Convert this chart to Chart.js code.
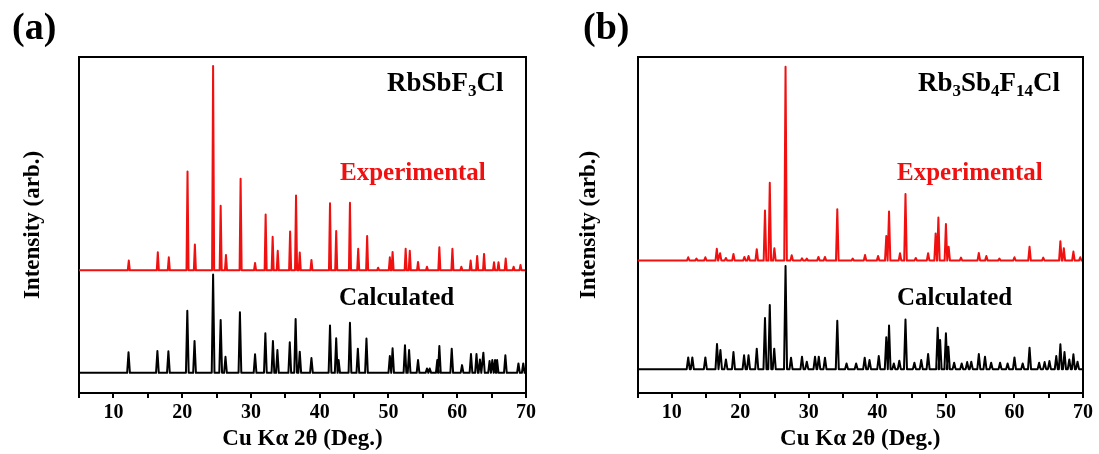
<!DOCTYPE html>
<html><head><meta charset="utf-8">
<script src="https://cdn.jsdelivr.net/npm/chart.js@4.4.0/dist/chart.umd.min.js"></script>
<style>
html,body{margin:0;padding:0;background:#fff;width:1099px;height:454px;overflow:hidden}
.box{position:absolute;top:0;height:454px}
#wa{left:0;width:549px}
#wb{left:549px;width:550px}
</style></head><body>
<div class="box" id="wa"><canvas id="ca"></canvas></div>
<div class="box" id="wb"><canvas id="cb"></canvas></div>
<script>
// ---- data (2θ in degrees, intensity in arbitrary units, offset traces) ----
const xTickValues = [5,10,15,20,25,30,35,40,45,50,55,60,65,70];

// (a) RbSbF3Cl
const aExpBase = 36.5;
const aExpPos = [12.24,16.46,18.06,20.78,21.85,24.5,25.6,26.37,28.5,30.6,32.14,33.16,33.9,35.7,36.56,37.1,38.8,41.5,42.4,44.4,45.6,46.9,48.5,50.2,50.6,52.5,53.1,54.3,55.6,57.4,59.3,60.6,61.95,62.9,63.9,65.35,66.0,67.05,68.2,69.2];
const aExpInt = [39.4,41.9,40.4,65.9,44.2,97.3,55.7,41.1,63.8,38.7,53.1,46.5,42.3,48.1,58.8,41.8,39.6,56.5,48.2,56.6,42.9,46.7,37.3,40.4,42.0,42.9,42.3,39.0,37.6,43.4,42.9,37.6,39.4,40.8,41.4,38.9,38.9,40.0,37.6,38.1];
const aCalBase = 6.0;
const aCalPos = [12.2,16.4,18.0,20.75,21.8,24.5,25.6,26.3,28.4,30.6,32.1,33.2,33.85,35.65,36.5,37.1,38.8,41.5,42.4,42.75,44.4,45.55,46.8,50.2,50.6,52.4,53.0,54.3,55.6,56.0,57.1,57.4,59.2,60.7,62.0,62.8,63.3,63.8,64.7,65.1,65.5,65.8,67.0,68.9,69.6];
const aCalInt = [12.1,12.5,12.4,24.5,15.5,35.3,21.7,10.8,24.0,11.5,17.8,15.5,12.8,15.1,22.0,12.3,10.4,20.1,16.3,9.8,20.9,13.2,16.2,11.0,13.3,14.2,12.8,9.8,7.3,7.3,9.8,14.0,13.2,8.3,11.6,11.6,10.0,12.0,9.5,9.8,9.8,9.8,11.2,8.8,8.8];

// (b) Rb3Sb4F14Cl
const bExpBase = 39.4;
const bExpPos = [12.4,13.6,14.9,16.57,17.05,17.9,19.0,20.6,21.2,22.4,23.6,24.3,24.97,26.6,27.5,29.0,29.7,31.4,32.35,34.15,36.4,38.2,40.1,41.3,41.7,43.3,44.1,45.6,47.4,48.5,48.9,50.0,50.4,52.2,54.8,55.9,57.8,60.0,62.2,64.2,66.7,67.2,68.6,69.6];
const bExpInt = [40.4,40.0,40.4,42.9,41.6,40.2,41.4,40.5,40.8,42.8,54.3,62.6,43.1,97.1,41.0,40.1,40.0,40.5,40.5,54.7,40.0,41.1,40.8,46.7,54.0,41.6,59.2,40.2,41.6,47.5,52.2,50.3,43.5,40.3,41.7,40.8,40.0,40.4,43.5,40.3,45.2,43.1,42.1,40.4];
const bCalBase = 7.1;
const bCalPos = [12.4,13.0,14.9,16.6,17.1,17.9,19.0,20.55,21.2,22.4,23.6,24.3,24.95,26.6,27.4,29.0,29.7,30.9,31.45,32.35,34.15,35.5,36.9,38.15,38.85,40.2,41.3,41.7,42.4,43.2,44.1,45.4,46.4,47.4,48.8,49.15,50.0,50.35,51.2,52.3,53.1,53.7,54.8,55.7,56.6,57.9,59.0,60.0,61.2,62.2,63.6,64.4,65.1,66.1,66.7,67.3,68.0,68.6,69.2];
const bCalInt = [10.6,10.6,10.6,14.6,12.8,10.0,12.2,11.2,11.2,13.2,22.3,26.2,13.2,37.8,10.5,10.8,9.3,10.8,10.8,10.5,21.5,8.8,8.8,10.5,9.8,11.0,16.6,20.1,8.8,9.6,21.9,9.0,9.8,11.6,19.4,15.8,17.8,13.8,9.0,8.8,9.2,9.3,11.6,10.8,9.0,9.0,8.8,10.6,8.8,13.5,9.0,9.2,9.5,11.0,14.5,12.2,10.0,11.5,9.3];

// ---- build line tables from the read peaks ----
function trace(base, pos, inten, hw){
  const pts=[{x:5,y:base}];
  pos.forEach((p,i)=>{ pts.push({x:p-hw,y:base},{x:p,y:inten[i]},{x:p+hw,y:base}); });
  pts.push({x:70,y:base});
  return pts;
}
const RED='rgb(240,16,16)';
const FONT='"Liberation Serif","Times New Roman",serif';

const framePlugin = {
  id:'frame',
  afterDraw(chart){
    const {ctx, chartArea:a} = chart;
    ctx.save();
    ctx.strokeStyle='#000'; ctx.lineWidth=2;
    ctx.beginPath();
    ctx.moveTo(a.left, a.top); ctx.lineTo(a.right, a.top); ctx.lineTo(a.right, a.bottom);
    ctx.stroke();
    ctx.restore();
  }
};
const textPlugin = {
  id:'txt',
  afterDraw(chart, args, opts){
    const ctx = chart.ctx;
    ctx.save();
    ctx.textBaseline='alphabetic';
    (opts.items||[]).forEach(it=>{
      let x = it.x;
      it.parts.forEach(pt=>{
        ctx.font = 'bold ' + pt.size + 'px ' + FONT;
        ctx.fillStyle = it.color || '#000';
        ctx.fillText(pt.t, x, it.y + (pt.dy||0));
        x += ctx.measureText(pt.t).width;
      });
    });
    ctx.restore();
  }
};

function makeChart(id, expPts, calPts, cfg){
  return new Chart(document.getElementById(id), {
    type:'scatter',
    data:{datasets:[
      {data:expPts, showLine:true, borderColor:RED, borderWidth:2, pointRadius:0, tension:0, borderJoinStyle:'round'},
      {data:calPts, showLine:true, borderColor:'#000', borderWidth:2, pointRadius:0, tension:0, borderJoinStyle:'round'}
    ]},
    options:{
      responsive:true, maintainAspectRatio:false, animation:false,
      layout:{padding:{top:57,right:cfg.rightPad,bottom:0,left:0}},
      plugins:{legend:{display:false}, tooltip:{enabled:false}, txt:{items:cfg.items}},
      scales:{
        x:{type:'linear', min:5, max:70,
          afterBuildTicks:s=>{ s.ticks = xTickValues.map(v=>({value:v})); },
          ticks:{autoSkip:false, maxRotation:0, padding:3, color:'#000',
                 font:{family:FONT, weight:'bold', size:20},
                 callback:v=> (v%10===0 ? String(v) : '')},
          grid:{drawOnChartArea:false, drawTicks:true, tickLength:5, color:'#000', lineWidth:2},
          border:{display:true, color:'#000', width:2},
          title:{display:true, text:'Cu Kα 2θ (Deg.)', color:'#000', padding:{top:0,bottom:1},
                 font:{family:FONT, weight:'bold', size:23}},
          afterFit:s=>{ s.height = 61; }
        },
        y:{min:0, max:100,
          ticks:{display:false}, grid:{display:false},
          border:{display:true, color:'#000', width:2},
          title:{display:true, text:'Intensity (arb.)', color:'#000', padding:{top:cfg.yTitlePad,bottom:0},
                 font:{family:FONT, weight:'bold', size:23}},
          afterFit:s=>{ s.width = cfg.yWidth; }
        }
      }
    },
    plugins:[framePlugin, textPlugin]
  });
}

makeChart('ca', trace(aExpBase,aExpPos,aExpInt,0.15), trace(aCalBase,aCalPos,aCalInt,0.2), {
  rightPad:23, yWidth:79, yTitlePad:19,
  items:[
    {x:12, y:39, parts:[{t:'(a)', size:38}]},
    {x:387, y:91, parts:[{t:'RbSbF',size:27},{t:'3',size:17,dy:5},{t:'Cl',size:27}]},
    {x:340, y:180, color:RED, parts:[{t:'Experimental',size:25}]},
    {x:339, y:305, parts:[{t:'Calculated',size:25}]}
  ]
});
makeChart('cb', trace(bExpBase,bExpPos,bExpInt,0.19), trace(bCalBase,bCalPos,bCalInt,0.22), {
  rightPad:16, yWidth:88.5, yTitlePad:26,
  items:[
    {x:583-549, y:39, parts:[{t:'(b)', size:38}]},
    {x:918-549, y:91, parts:[{t:'Rb',size:27},{t:'3',size:17,dy:5},{t:'Sb',size:27},{t:'4',size:17,dy:5},{t:'F',size:27},{t:'14',size:17,dy:5},{t:'Cl',size:27}]},
    {x:897-549, y:180, color:RED, parts:[{t:'Experimental',size:25}]},
    {x:897-549, y:305, parts:[{t:'Calculated',size:25}]}
  ]
});
</script>
</body></html>
